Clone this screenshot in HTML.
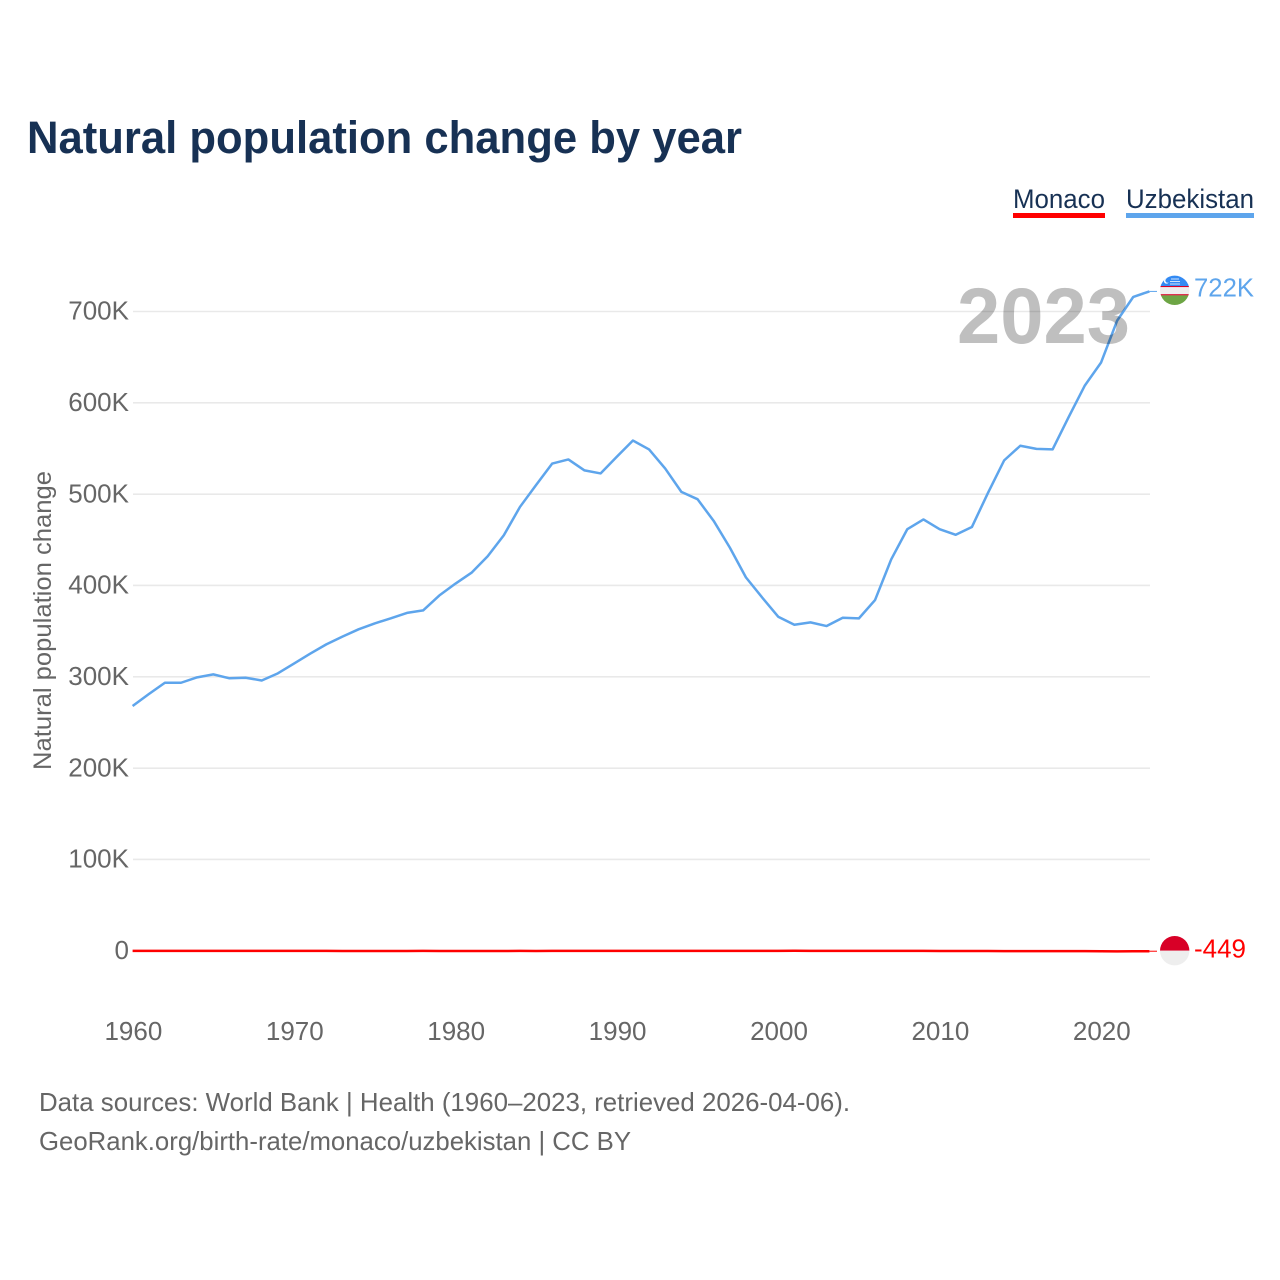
<!DOCTYPE html>
<html lang="en">
<head>
<meta charset="utf-8">
<title>Natural population change by year</title>
<style>
html,body{margin:0;padding:0;background:#fff;}
svg{display:block;font-family:"Liberation Sans",sans-serif;}
</style>
</head>
<body>
<svg id="chart" width="1280" height="1280" viewBox="0 0 1280 1280" xmlns="http://www.w3.org/2000/svg">
  <defs>
    <clipPath id="clip-uz"><circle cx="1174.7" cy="290.3" r="14.7"/></clipPath>
    <clipPath id="clip-mc"><circle cx="1174.7" cy="950.7" r="14.7"/></clipPath>
  </defs>
  <rect x="0" y="0" width="1280" height="1280" fill="#ffffff"/>
  <text x="27" y="153" font-size="45" font-weight="700" fill="#173154" textLength="715" lengthAdjust="spacingAndGlyphs">Natural population change by year</text>

  <g>
    <g>
      <text x="1013" y="208" font-size="27" fill="#173154" textLength="92" lengthAdjust="spacingAndGlyphs">Monaco</text>
      <rect x="1013" y="213" width="92" height="5" fill="#ff0000"/>
    </g>
    <g>
      <text x="1126" y="208" font-size="27" fill="#173154" textLength="128" lengthAdjust="spacingAndGlyphs">Uzbekistan</text>
      <rect x="1126" y="213" width="128" height="5" fill="#5ea5ec"/>
    </g>
  </g>

  <g id="grid"></g>
  <g id="y-ticks"></g>
  <g id="x-ticks"></g>
  <text transform="translate(51,770) rotate(-90)" font-size="25" fill="#666666" textLength="299" lengthAdjust="spacingAndGlyphs">Natural population change</text>

  <g id="series"></g>

  <text x="957" y="343" font-size="79" font-weight="700" fill="#bfbfbf" textLength="173" lengthAdjust="spacingAndGlyphs" style="mix-blend-mode:multiply">2023</text>

  <g clip-path="url(#clip-uz)">
    <rect x="1160" y="275" width="30" height="11" fill="#338af3"/>
    <rect x="1160" y="286" width="30" height="1.2" fill="#d80027"/>
    <rect x="1160" y="287.2" width="30" height="7" fill="#eeeeee"/>
    <rect x="1160" y="294.2" width="30" height="1.2" fill="#d80027"/>
    <rect x="1160" y="295.4" width="30" height="11" fill="#6da544"/>
    <circle cx="1166.5" cy="281" r="2.6" fill="#ffffff"/>
    <circle cx="1167.6" cy="280.6" r="2.2" fill="#338af3"/>
    <rect x="1171" y="278.5" width="8" height="1" fill="#cfe3fb"/>
    <rect x="1170" y="281" width="10" height="1" fill="#cfe3fb"/>
    <rect x="1170" y="283.5" width="10" height="1" fill="#cfe3fb"/>
  </g>
  <g clip-path="url(#clip-mc)">
    <rect x="1160" y="936" width="30" height="14.7" fill="#d80027"/>
    <rect x="1160" y="950.7" width="30" height="15" fill="#eeeeee"/>
  </g>

  <text x="1194" y="296.5" font-size="26" fill="#5ea5ec" textLength="60" lengthAdjust="spacingAndGlyphs">722K</text>
  <text x="1194" y="957.5" font-size="26" fill="#ff0000" textLength="52" lengthAdjust="spacingAndGlyphs">-449</text>

  <text x="39" y="1111" font-size="26" fill="#666666" textLength="811" lengthAdjust="spacingAndGlyphs">Data sources: World Bank | Health (1960–2023, retrieved 2026-04-06).</text>
  <text x="39" y="1150" font-size="26" fill="#666666" textLength="592" lengthAdjust="spacingAndGlyphs">GeoRank.org/birth-rate/monaco/uzbekistan | CC BY</text>
</svg>
<script>
const firstYear = 1960;
const uzbekistanValues = [
  268000,281000,293500,293500,299400,302700,298400,299000,296000,303800,
  314500,325300,335500,344000,352000,358500,364000,370000,372700,389000,
  402000,414000,432000,455000,486000,510000,533500,538000,526000,522700,
  541000,558700,549000,528000,502500,494500,470800,441600,408900,387000,
  365800,357000,359600,355600,364700,364000,384000,428500,461700,472300,
  461700,455500,464000,501500,537000,553000,549600,549000,584600,619000,
  644000,690000,716000,722000
];
const monacoValues = [
  -60,-50,-40,-40,-50,-60,-70,-60,-60,-70,
  -80,-90,-110,-150,-170,-180,-190,-170,-120,-180,
  -200,-210,-230,-180,-140,-150,-130,-120,-120,-110,
  -120,-130,-100,-110,-90,-80,-70,-60,-50,-60,
  -40,20,-60,-80,-70,-90,-90,-110,-120,-130,
  -160,-190,-220,-250,-330,-380,-370,-390,-400,-420,
  -440,-580,-560,-449
];
const yTickValues = [0,100000,200000,300000,400000,500000,600000,700000];
const yTickLabels = ["0","100K","200K","300K","400K","500K","600K","700K"];
const xTickYears = [1960,1970,1980,1990,2000,2010,2020];

const NS = "http://www.w3.org/2000/svg";
function xScale(year){ return 132.6 + (year - 1960) * 16.14; }
function yScale(v){ return 950.8 - v * (639.3 / 700000); }

const gridGroup = document.getElementById("grid");
const yTickGroup = document.getElementById("y-ticks");
const xTickGroup = document.getElementById("x-ticks");
const seriesGroup = document.getElementById("series");

yTickValues.forEach(function(v, i){
  if (v !== 0) {
    const line = document.createElementNS(NS, "line");
    
    
    line.setAttribute("x1", 133);
    line.setAttribute("x2", 1150);
    line.setAttribute("y1", yScale(v));
    line.setAttribute("y2", yScale(v));
    line.setAttribute("stroke", "#e9e9e9");
    line.setAttribute("stroke-width", "1.6");
    gridGroup.appendChild(line);
  }
  const t = document.createElementNS(NS, "text");
  
  
  t.setAttribute("x", 129);
  t.setAttribute("y", yScale(v) + 8.2);
  t.setAttribute("text-anchor", "end");
  t.setAttribute("font-size", "26");
  t.setAttribute("fill", "#666666");
  t.textContent = yTickLabels[i];
  yTickGroup.appendChild(t);
});

xTickYears.forEach(function(year){
  const t = document.createElementNS(NS, "text");
  
  
  t.setAttribute("x", xScale(year) + 0.8);
  t.setAttribute("y", 1040);
  t.setAttribute("text-anchor", "middle");
  t.setAttribute("font-size", "26");
  t.setAttribute("fill", "#666666");
  t.textContent = String(year);
  xTickGroup.appendChild(t);
});

function pathFor(values){
  return values.map(function(v, i){
    return (i ? "L" : "M") + xScale(firstYear + i).toFixed(2) + " " + yScale(v).toFixed(2);
  }).join(" ");
}
function endConnector(values){
  const last = values.length - 1;
  const y = yScale(values[last]).toFixed(2);
  return "M" + xScale(firstYear + last).toFixed(2) + " " + y + " L1157 " + y;
}

const monacoLine = document.createElementNS(NS, "path");


monacoLine.setAttribute("d", pathFor(monacoValues));
monacoLine.setAttribute("fill", "none");
monacoLine.setAttribute("stroke", "#ff0000");
monacoLine.setAttribute("stroke-width", "2.5");
monacoLine.setAttribute("stroke-linejoin", "round");
seriesGroup.appendChild(monacoLine);

const monacoConnector = document.createElementNS(NS, "path");


monacoConnector.setAttribute("d", endConnector(monacoValues));
monacoConnector.setAttribute("fill", "none");
monacoConnector.setAttribute("stroke", "#ff0000");
monacoConnector.setAttribute("stroke-width", "1");
seriesGroup.appendChild(monacoConnector);

const uzbekistanLine = document.createElementNS(NS, "path");


uzbekistanLine.setAttribute("d", pathFor(uzbekistanValues));
uzbekistanLine.setAttribute("fill", "none");
uzbekistanLine.setAttribute("stroke", "#5ea5ec");
uzbekistanLine.setAttribute("stroke-width", "2.5");
uzbekistanLine.setAttribute("stroke-linejoin", "round");
seriesGroup.appendChild(uzbekistanLine);

const uzbekistanConnector = document.createElementNS(NS, "path");


uzbekistanConnector.setAttribute("d", endConnector(uzbekistanValues));
uzbekistanConnector.setAttribute("fill", "none");
uzbekistanConnector.setAttribute("stroke", "#5ea5ec");
uzbekistanConnector.setAttribute("stroke-width", "1");
seriesGroup.appendChild(uzbekistanConnector);
</script>
</body>
</html>
